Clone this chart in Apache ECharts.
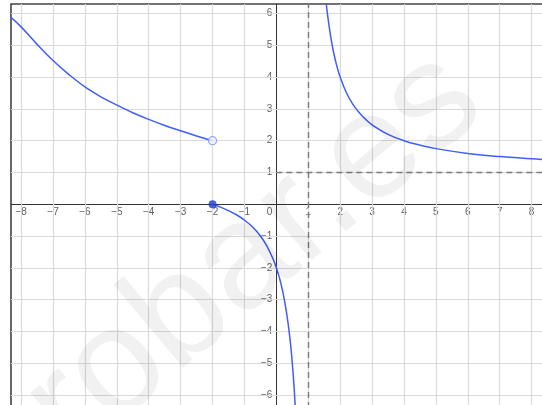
<!DOCTYPE html>
<html>
<head>
<meta charset="utf-8">
<script src="https://cdn.jsdelivr.net/npm/echarts@6/dist/echarts.min.js"></script>
<style>html,body{margin:0;padding:0;background:#fff}#c{width:542px;height:405px}</style>
</head>
<body>
<div id="c"></div>
<script>
// Axis ranges and tick labels
const xRange = [-8.317, 8.42];
const yRange = [-6.41, 6.30];
const xTicks = [-8,-7,-6,-5,-4,-3,-2,-1,1,2,3,4,5,6,7,8];
const yTicks = [-6,-5,-4,-3,-2,-1,1,2,3,4,5,6];
const xGrid = [-8,-7,-6,-5,-4,-3,-2,-1,1,2,3,4,5,6,7,8];
const yGrid = [-6,-5,-4,-3,-2,-1,1,2,3,4,5,6];

// Left branch (x < -2)
const leftX = [-8.4,-8,-7.5,-7,-6.5,-6,-5.5,-5,-4.5,-4,-3.5,-3,-2.5,-2];
const leftY = [5.95,5.58,5.03,4.52,4.08,3.69,3.38,3.12,2.88,2.67,2.48,2.31,2.15,2.0];
// Middle branch (-2 <= x < 1)
const midX = [-2,-1.75,-1.5,-1.25,-1,-0.75,-0.5,-0.3,-0.1,0,0.05,0.1,0.15,0.2,0.25,0.3,0.35,0.4,0.45,0.5,0.55,0.6];
const midY = [0,-0.09,-0.2,-0.33,-0.5,-0.71,-1,-1.31,-1.73,-2,-2.16,-2.33,-2.53,-2.75,-3,-3.29,-3.62,-4,-4.45,-5,-5.67,-6.5];
// Right branch (x > 1)
const rightX = [1.5,1.55,1.6,1.7,1.8,1.9,2,2.2,2.4,2.6,2.8,3,3.5,4,4.5,5,6,7,8,8.45];
const rightY = [7,6.45,6,5.29,4.75,4.33,4,3.5,3.14,2.88,2.67,2.5,2.2,2,1.86,1.75,1.6,1.5,1.43,1.4];
// Special points
const closedPt = [-2, 0];
const openPt = [-2, 2];
// Asymptotes
const vAsym = 1;
const hAsym = 1;

const zip = (xs, ys) => xs.map((x, i) => [x, ys[i]]);
const fmt = v => v < 0 ? '\u2212' + Math.abs(v) : String(v);
const curveColor = '#3f5efb';
const fontFam = 'Liberation Sans, Arial, sans-serif';

const chart = echarts.init(document.getElementById('c'), null, {renderer: 'canvas'});

const curve = (xs, ys) => ({
  type: 'line', data: zip(xs, ys), showSymbol: false, smooth: 0.4,
  lineStyle: {color: curveColor, width: 1.5}, z: 5, silent: true
});

chart.setOption({
  animation: false,
  backgroundColor: '#fff',
  grid: {left: 11, top: 4, right: -3, bottom: -3, show: true, borderColor: '#444', borderWidth: 1.6,
         containLabel: false, outerBoundsMode: 'none'},
  xAxis: {
    type: 'value', min: xRange[0], max: xRange[1],
    splitLine: {show: false}, axisTick: {show: false}, axisLabel: {show: false},
    axisLine: {onZero: true, lineStyle: {color: '#333', width: 1}}
  },
  yAxis: {
    type: 'value', min: yRange[0], max: yRange[1],
    splitLine: {show: false}, axisTick: {show: false}, axisLabel: {show: false},
    axisLine: {onZero: true, lineStyle: {color: '#333', width: 1}}
  },
  series: [
    {
      type: 'line', data: [], silent: true, z: 1,
      markLine: {
        silent: true, symbol: 'none', animation: false,
        label: {show: false},
        lineStyle: {color: '#dadada', width: 1.2, type: 'solid'},
        data: xGrid.map(v => ({xAxis: v})).concat(yGrid.map(v => ({yAxis: v})))
      }
    },
    {
      type: 'line', data: [], silent: true, z: 3,
      markLine: {
        silent: true, symbol: 'none', animation: false,
        label: {show: false},
        lineStyle: {color: '#7a7a7a', width: 1.4, type: [6, 4]},
        data: [
          {xAxis: vAsym},
          [{coord: [0, hAsym]}, {coord: [xRange[1], hAsym]}]
        ]
      }
    },
    curve(leftX, leftY),
    curve(midX, midY),
    curve(rightX, rightY),
    {type: 'scatter', data: [openPt], symbolSize: 8, silent: true, itemStyle: {color: '#eef1ff', borderColor: '#7f92f3', borderWidth: 1.3}, z: 6},
    {type: 'scatter', data: [closedPt], symbolSize: 8, silent: true, itemStyle: {color: '#1a3bd1'}, z: 6},
    // x tick labels
    {type: 'scatter', data: xTicks.map(v => [v, 0]), symbolSize: 0, silent: true, z: 4,
      label: {show: true, formatter: p => fmt(p.value[0]), position: [0, 8], align: 'center', verticalAlign: 'middle', fontSize: 10, color: '#333', fontFamily: fontFam}},
    // y tick labels
    {type: 'scatter', data: yTicks.map(v => [0, v]), symbolSize: 0, silent: true, z: 4,
      label: {show: true, formatter: p => fmt(p.value[1]), position: [-4, 0], align: 'right', verticalAlign: 'middle', fontSize: 10, color: '#333', fontFamily: fontFam}},
    // origin label
    {type: 'scatter', data: [[0, 0]], symbolSize: 0, silent: true, z: 4,
      label: {show: true, formatter: '0', position: [-4, 8], align: 'right', verticalAlign: 'middle', fontSize: 10, color: '#333', fontFamily: fontFam}}
  ],
  graphic: [{
    type: 'text', x: 462, y: 80, rotation: 40 * Math.PI / 180, z: 100, silent: true,
    style: {text: 'robar.es', fill: 'rgba(0,0,0,0.055)', font: '150px "Liberation Sans", Arial, sans-serif', textAlign: 'right', textVerticalAlign: 'middle'}
  }]
});
</script>
</body>
</html>
